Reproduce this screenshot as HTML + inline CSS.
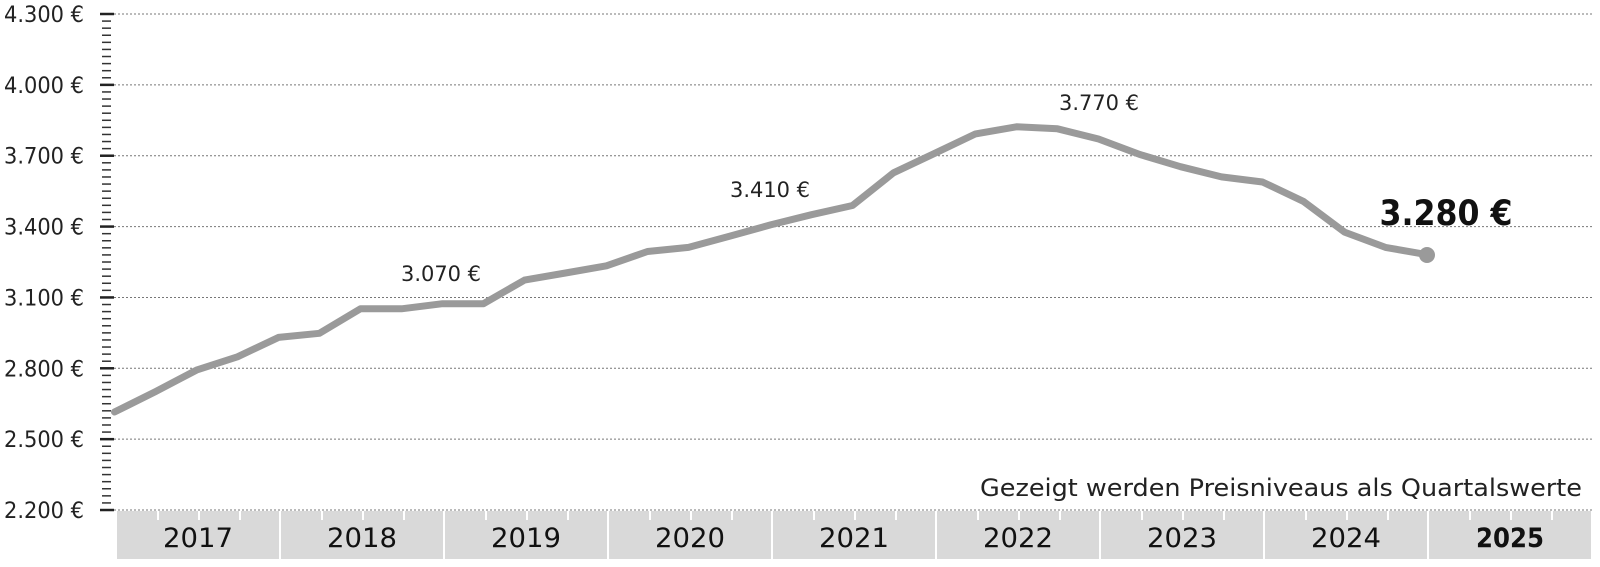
<!DOCTYPE html>
<html><head><meta charset="utf-8"><style>
html,body{margin:0;padding:0;background:#fff;}
svg{display:block;font-family:"DejaVu Sans","Liberation Sans",sans-serif;}
</style></head><body>
<svg id="c" width="1600" height="567" viewBox="0 0 1600 567" xmlns="http://www.w3.org/2000/svg">
<g id="grid"></g>
<g id="bar"></g>
<polyline id="line" fill="none" stroke="#9a9a9a" stroke-width="7" stroke-linejoin="round" stroke-linecap="round" points=""/>
<circle cx="1427" cy="255" r="8" fill="#9a9a9a"/>
<text x="441" y="281" font-size="21" text-anchor="middle" fill="#222" textLength="80" lengthAdjust="spacingAndGlyphs">3.070 €</text>
<text x="770" y="197" font-size="21" text-anchor="middle" fill="#222" textLength="80" lengthAdjust="spacingAndGlyphs">3.410 €</text>
<text x="1099" y="110" font-size="21" text-anchor="middle" fill="#222" textLength="80" lengthAdjust="spacingAndGlyphs">3.770 €</text>
<text x="1446" y="225" font-size="35" font-weight="bold" text-anchor="middle" fill="#111" textLength="133" lengthAdjust="spacingAndGlyphs">3.280 €</text>
<text x="1582" y="496" font-size="24" text-anchor="end" fill="#222" textLength="602" lengthAdjust="spacingAndGlyphs">Gezeigt werden Preisniveaus als Quartalswerte</text>
</svg>
<script>
var ns="http://www.w3.org/2000/svg";
function el(t,a,p,txt){var e=document.createElementNS(ns,t);for(var k in a)e.setAttribute(k,a[k]);if(txt)e.textContent=txt;p.appendChild(e);return e;}
var g=document.getElementById('grid'),b=document.getElementById('bar');
var step=70.86;
var labels=["4.300 €","4.000 €","3.700 €","3.400 €","3.100 €","2.800 €","2.500 €","2.200 €"];
for(var i=0;i<8;i++){var y=14+i*step;
 el('line',{x1:114,x2:1594,y1:y,y2:y,stroke:'#777','stroke-width':1,'stroke-dasharray':'2,2'},g);
 el('line',{x1:100,x2:114,y1:y,y2:y,stroke:'#222','stroke-width':2.5},g);
 el('text',{x:84,y:y+8,'font-size':22,'text-anchor':'end',fill:'#222',textLength:80,lengthAdjust:'spacingAndGlyphs'},g,labels[i]);
 if(i<7)for(var j=1;j<10;j++){var yy=y+j*step/10;el('line',{x1:102,x2:111,y1:yy,y2:yy,stroke:'#333','stroke-width':1.5},g);}
}
for(var k=0;k<9;k++){var x0=117+k*164;
 el('rect',{x:x0,y:511,width:162,height:48,fill:'#d9d9d9'},b);
 for(var q=1;q<4;q++)el('rect',{x:x0+q*41-1,y:511,width:2,height:9,fill:'#fff'},b);
 el('text',{x:x0+81,y:547,'font-size':27,'text-anchor':'middle',fill:'#111','font-weight':k==8?'bold':'normal',textLength:k==8?68:70,lengthAdjust:'spacingAndGlyphs'},b,String(2017+k));
}
var ys=[403,383,362,349,330,326,302,302,297,297,274,267,260,246,242,231,220,210,201,169,150,131,124,126,136,151,163,173,178,197,227,242,249];
var pts=ys.map(function(v,i){return (114.5+i*41).toFixed(1)+','+(v*1.0224).toFixed(1);});
document.getElementById('line').setAttribute('points',pts.join(' '));
</script>
</body></html>
